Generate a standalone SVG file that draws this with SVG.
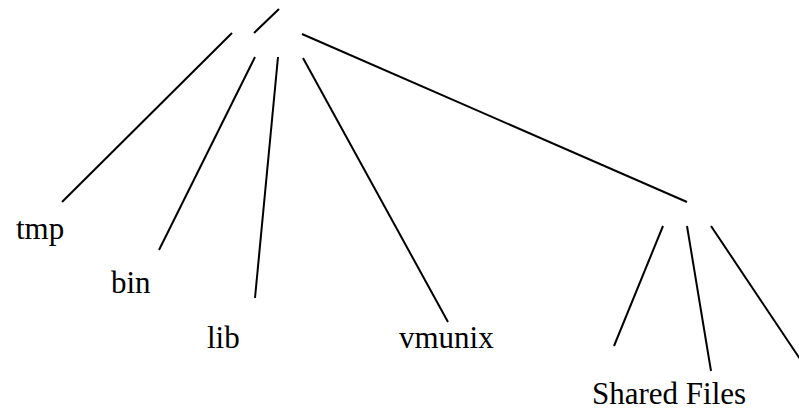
<svg xmlns="http://www.w3.org/2000/svg" width="799" height="411" viewBox="0 0 799 411">
<style>
.c{stroke:#000;stroke-width:2;fill:none;stroke-linecap:butt}
.t{font-family:"Liberation Serif","Times New Roman",serif;font-size:31px;fill:#000}
</style>
<rect width="799" height="411" fill="#fff"/>
<g id="connectors">
<line class="c" x1="254" y1="33" x2="279" y2="9"/>
<line class="c" x1="232" y1="33" x2="62" y2="202"/>
<line class="c" x1="255" y1="57" x2="159" y2="250"/>
<line class="c" x1="278" y1="57" x2="255" y2="298"/>
<line class="c" x1="303" y1="58" x2="448" y2="322"/>
<line class="c" x1="302" y1="34" x2="687" y2="202"/>
<line class="c" x1="663" y1="226" x2="614" y2="346"/>
<line class="c" x1="687" y1="226" x2="711" y2="371"/>
<line class="c" x1="711" y1="226" x2="800" y2="359"/>
</g>
<g id="tmp"><text class="t" x="16" y="239">tmp</text></g>
<g id="bin"><text class="t" x="111" y="293">bin</text></g>
<g id="lib"><text class="t" x="207" y="348">lib</text></g>
<g id="vmunix"><text class="t" x="399" y="348">vmunix</text></g>
<g id="shared-files"><text class="t" x="592" y="404">Shared Files</text></g>
</svg>
